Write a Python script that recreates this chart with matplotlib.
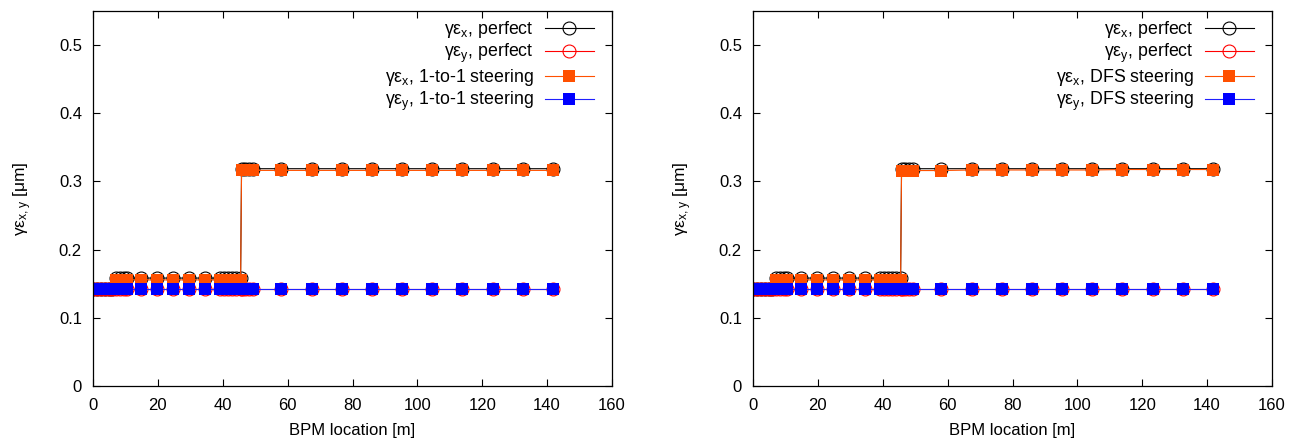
import matplotlib
matplotlib.use("Agg")
import matplotlib.pyplot as plt

plt.rcParams['font.family'] = ['Liberation Sans', 'DejaVu Sans']
plt.rcParams['mathtext.fontset'] = 'custom'
plt.rcParams['mathtext.rm'] = 'Liberation Sans'
plt.rcParams['mathtext.it'] = 'Liberation Sans'

# BPM positions [m]
s = [0.0, 1.2, 2.4, 3.6, 4.8, 6.0, 7.2, 8.4, 9.6, 10.5,
     14.9, 19.8, 24.6, 29.5, 34.4,
     39.3, 40.5, 41.7, 42.9, 44.1, 45.5,
     45.8, 47.0, 48.1, 49.2,
     58.1, 67.4, 76.7, 86.0, 95.3, 104.6, 113.9, 123.2, 132.5, 141.8]

# emittances [um]
ex_perfect = [0.143] * 6 + [0.1583] * 15 + [0.3187] * 14
ey_perfect = [0.143] * 35
ex_one2one = [0.143] * 6 + [0.1556] * 15 + [0.3162] * 14
ey_one2one = [0.143] * 35
ex_dfs = [0.143] * 6 + [0.1556] * 15 + [0.316] * 5 + [0.3168] * 5 + [0.3175] * 4
ey_dfs = [0.143] * 35

panels = [("1-to-1 steering", ex_one2one, ey_one2one),
          ("DFS steering", ex_dfs, ey_dfs)]

fig = plt.figure(figsize=(13.1, 4.43), dpi=100)
lefts = [93 / 1310, 753 / 1310]
w = 519 / 1310
b = 1 - 386 / 443
h = 375 / 443

for left, (name, ex, ey) in zip(lefts, panels):
    ax = fig.add_axes([left, b, w, h])
    ms = 9.3
    ax.plot(s, ex_perfect, '-', color='black', lw=0.8, marker='o', ms=ms,
            mfc='none', mec='black', mew=0.8, label=r'γε$_\mathregular{x}$, perfect')
    ax.plot(s, ey_perfect, '-', color='#ff0000', lw=0.8, marker='o', ms=ms,
            mfc='none', mec='#ff0000', mew=0.8, label=r'γε$_\mathregular{y}$, perfect')
    ax.plot(s, ex, '-', color='#ff5000', lw=0.8, marker='s', ms=ms,
            mfc='#ff5000', mec='#ff5000', mew=0, label=r'γε$_\mathregular{x}$, ' + name)
    ax.plot(s, ey, '-', color='#2020ff', lw=0.8, marker='s', ms=ms,
            mfc='#0000ff', mec='#0000ff', mew=0, label=r'γε$_\mathregular{y}$, ' + name)

    ax.set_xlim(0, 160)
    ax.set_ylim(0, 0.55)
    ax.set_xticks(range(0, 161, 20))
    ax.set_yticks([0, 0.1, 0.2, 0.3, 0.4, 0.5])
    ax.set_yticklabels(['0', '0.1', '0.2', '0.3', '0.4', '0.5'])
    ax.tick_params(direction='in', top=True, right=True, labelsize=12,
                   length=5, width=0.8)
    ax.tick_params(axis='x', pad=9)
    ax.tick_params(axis='y', pad=8)
    for sp in ax.spines.values():
        sp.set_linewidth(0.9)
    ax.set_xlabel('BPM location [m]', fontsize=12, labelpad=7)
    ax.set_ylabel(r'γε$_\mathregular{x,y}$ [μm]', fontsize=12.5, labelpad=18)
    ax.legend(loc='upper right', bbox_to_anchor=(1 - 11 / 519, 1 - 1 / 375),
              frameon=False, markerfirst=False, fontsize=12.8,
              handlelength=2.75, labelspacing=0.1, borderaxespad=0,
              handletextpad=0.65)

fig.savefig('out.png', dpi=100)
